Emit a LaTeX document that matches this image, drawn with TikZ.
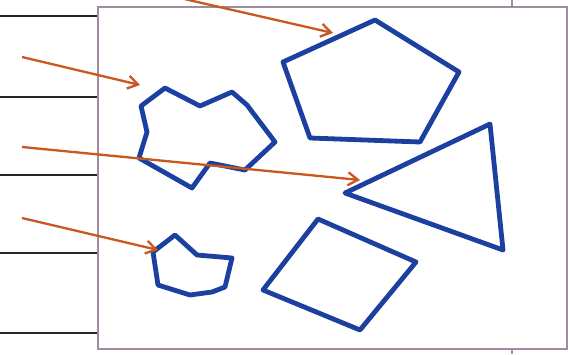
\documentclass[tikz,border=0pt]{standalone}
\usetikzlibrary{arrows.meta}
\definecolor{shapeblue}{HTML}{1C40A0}
\definecolor{arroworange}{HTML}{C8581E}
\definecolor{boxgray}{HTML}{A08CA0}
\tikzset{
  shapeline/.style={draw=shapeblue,line width=4.8pt,line join=round},
  pointer/.style={draw=arroworange,line width=2.3pt,-{Straight Barb[length=10pt,width=13pt,line width=2.3pt]}},
  rule/.style={draw=black!85,line width=1.2pt},
}
\begin{document}
\begin{tikzpicture}[x=1pt,y=-1pt]
\useasboundingbox (0,0) rectangle (568,354);
% left rules
\foreach \yy in {16,97,175,253,333} \draw[rule] (0,\yy) -- (98,\yy);
% ticks
\draw[boxgray,line width=1.5pt] (512,0) -- (512,7);
\draw[boxgray,line width=1.5pt] (512,349) -- (512,354);
% box
\draw[boxgray,line width=2pt,fill=white] (98,7) rectangle (567,349);
% shapes
\draw[shapeline] (283,62) -- (375,20) -- (459,72) -- (420,142) -- (310,138) -- cycle;
\draw[shapeline] (345,193) -- (490,124) -- (503,250) -- cycle;
\draw[shapeline] (318,219) -- (416,262) -- (360,330) -- (263,290) -- cycle;
\draw[shapeline] (141,106) -- (165,88) -- (200,106) -- (232,92) -- (247,105) -- (275,142) -- (245,170) -- (210,163) -- (192,188) -- (139,158) -- (147,132) -- cycle;
\draw[shapeline] (153,252) -- (175,235) -- (197,255) -- (232,258) -- (225,287) -- (212,292) -- (190,295) -- (158,285) -- cycle;
% arrows
\coordinate (a1s) at (180,-2); \coordinate (a1e) at (333,33);
\coordinate (a2s) at (22,57);  \coordinate (a2e) at (140,85);
\coordinate (a3s) at (22,147); \coordinate (a3e) at (360,180);
\coordinate (a4s) at (22,218); \coordinate (a4e) at (158,250);
\draw[pointer] (a1s) -- (a1e);
\draw[pointer] (a2s) -- (a2e);
\draw[pointer] (a3s) -- (a3e);
\draw[pointer] (a4s) -- (a4e);
\end{tikzpicture}
\end{document}
